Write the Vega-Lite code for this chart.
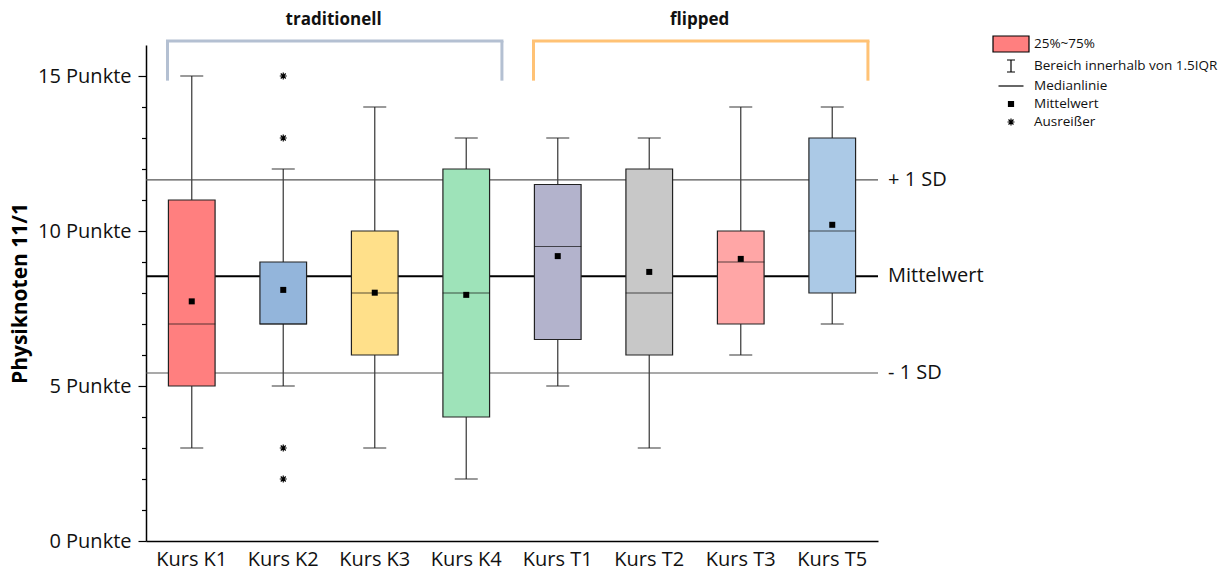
{
  "$schema": "https://vega.github.io/schema/vega-lite/v6.json",
  "width": 732,
  "height": 496,
  "autosize": {"type": "none"},
  "padding": {"left": 146, "top": 45, "right": 352, "bottom": 29},
  "background": "white",
  "config": {
    "font": "Open Sans",
    "view": {"stroke": null}
  },
  "datasets": {
    "boxes": [
      {"course": "Kurs K1", "lo": 3, "q1": 5, "median": 7, "q3": 11, "hi": 15, "mean": 7.73},
      {"course": "Kurs K2", "lo": 5, "q1": 7, "median": 7, "q3": 9, "hi": 12, "mean": 8.1},
      {"course": "Kurs K3", "lo": 3, "q1": 6, "median": 8, "q3": 10, "hi": 14, "mean": 8.01},
      {"course": "Kurs K4", "lo": 2, "q1": 4, "median": 8, "q3": 12, "hi": 13, "mean": 7.94},
      {"course": "Kurs T1", "lo": 5, "q1": 6.5, "median": 9.5, "q3": 11.5, "hi": 13, "mean": 9.19},
      {"course": "Kurs T2", "lo": 3, "q1": 6, "median": 8, "q3": 12, "hi": 13, "mean": 8.68},
      {"course": "Kurs T3", "lo": 6, "q1": 7, "median": 9, "q3": 10, "hi": 14, "mean": 9.1},
      {"course": "Kurs T5", "lo": 7, "q1": 8, "median": 10, "q3": 13, "hi": 14, "mean": 10.2}
    ],
    "outliers": [
      {"course": "Kurs K2", "value": 15},
      {"course": "Kurs K2", "value": 13},
      {"course": "Kurs K2", "value": 3},
      {"course": "Kurs K2", "value": 2}
    ],
    "refs": [
      {"label": "+ 1 SD", "value": 11.65, "kind": "sd"},
      {"label": "Mittelwert", "value": 8.54, "kind": "mean"},
      {"label": "- 1 SD", "value": 5.42, "kind": "sd"}
    ],
    "groups": [
      {"group": "traditionell", "from": "Kurs K1", "to": "Kurs K4", "mid": "Kurs K2"},
      {"group": "flipped", "from": "Kurs T1", "to": "Kurs T5", "mid": "Kurs T2"}
    ]
  },
  "encoding": {
    "x": {
      "field": "course",
      "type": "nominal",
      "sort": null,
      "scale": {"domain": ["Kurs K1", "Kurs K2", "Kurs K3", "Kurs K4", "Kurs T1", "Kurs T2", "Kurs T3", "Kurs T5"], "paddingInner": 0, "paddingOuter": 0},
      "axis": {
        "title": null,
        "labelAngle": 0,
        "labelFontSize": 20,
        "labelColor": "#111",
        "labelPadding": 8,
        "ticks": false,
        "domainColor": "#000",
        "domainWidth": 1.5,
        "grid": false
      }
    }
  },
  "layer": [
    {
      "data": {"name": "refs"},
      "mark": {"type": "rule"},
      "encoding": {
        "x": null,
        "y": {
          "field": "value",
          "type": "quantitative",
          "scale": {"domain": [0, 16], "nice": false, "zero": true},
          "axis": {
            "title": "Physiknoten 11/1",
            "titleFontSize": 21,
            "titleFontWeight": "bold",
            "titleColor": "#000",
            "titlePadding": 7,
            "tickCount": 16,
            "tickMinStep": 1,
            "labelExpr": "datum.value % 5 === 0 && datum.value < 16 ? datum.value + ' Punkte' : ''",
            "labelOverlap": false,
            "labelFontSize": 20,
            "labelColor": "#111",
            "labelPadding": 7,
            "tickSize": {"condition": {"test": "datum.value % 5 === 0", "value": 8}, "value": 4.5},
            "tickOpacity": {"condition": {"test": "datum.value > 15.5", "value": 0}, "value": 1},
            "tickColor": "#000",
            "tickWidth": 1.2,
            "domainColor": "#000",
            "domainWidth": 1.5,
            "grid": false
          }
        },
        "color": {"condition": {"test": "datum.kind === 'mean'", "value": "#000000"}, "value": "#555555"},
        "strokeWidth": {"condition": {"test": "datum.kind === 'mean'", "value": 2.2}, "value": 1.2}
      }
    },
    {
      "data": {"name": "refs"},
      "mark": {"type": "text", "align": "left", "baseline": "middle", "dx": 10, "fontSize": 20, "color": "#111"},
      "encoding": {
        "x": {"datum": "Kurs T5", "bandPosition": 1},
        "y": {"field": "value", "type": "quantitative"},
        "text": {"field": "label"}
      }
    },
    {
      "data": {"name": "boxes"},
      "mark": {"type": "rule", "color": "#444", "strokeWidth": 1.3},
      "encoding": {
        "y": {"field": "lo", "type": "quantitative"},
        "y2": {"field": "hi"}
      }
    },
    {
      "data": {"name": "boxes"},
      "mark": {"type": "tick", "color": "#222", "size": 23, "thickness": 1.3},
      "encoding": {"y": {"field": "lo", "type": "quantitative"}}
    },
    {
      "data": {"name": "boxes"},
      "mark": {"type": "tick", "color": "#222", "size": 23, "thickness": 1.3},
      "encoding": {"y": {"field": "hi", "type": "quantitative"}}
    },
    {
      "data": {"name": "boxes"},
      "mark": {"type": "bar", "width": {"band": 0.51}, "stroke": "#222", "strokeWidth": 1.2},
      "encoding": {
        "y": {"field": "q1", "type": "quantitative"},
        "y2": {"field": "q3"},
        "fill": {
          "field": "course",
          "type": "nominal",
          "scale": {"domain": ["Kurs K1", "Kurs K2", "Kurs K3", "Kurs K4", "Kurs T1", "Kurs T2", "Kurs T3", "Kurs T5"], "range": ["#FF7F7F", "#93B5DB", "#FFE08A", "#9EE3B9", "#B3B3CC", "#C8C8C8", "#FFA6A6", "#ABC9E6"]},
          "legend": null
        }
      }
    },
    {
      "data": {"name": "boxes"},
      "mark": {"type": "tick", "color": "#111", "size": 47, "thickness": 1.2},
      "encoding": {"y": {"field": "median", "type": "quantitative"}}
    },
    {
      "data": {"name": "boxes"},
      "mark": {"type": "point", "filled": true, "size": 400, "color": "#000", "opacity": 1, "shape": "M-0.3,-0.3H0.3V0.3H-0.3Z"},
      "encoding": {
        "y": {"field": "mean", "type": "quantitative"}
      }
    },
    {
      "data": {"name": "outliers"},
      "mark": {"type": "point", "filled": true, "size": 400, "strokeWidth": 1.2, "opacity": 1},
      "encoding": {
        "y": {"field": "value", "type": "quantitative"},
        "shape": {
          "datum": "Ausreißer",
          "type": "nominal",
          "scale": {
            "domain": ["25%~75%", "Bereich innerhalb von 1.5IQR", "Medianlinie", "Mittelwert", "Ausreißer"],
            "range": [
              "M-1.8,-0.8H1.8V0.8H-1.8Z",
              "M-0.4,-0.6H0.4M0,-0.6V0.6M-0.4,0.6H0.4",
              "M-1.25,0H1.25",
              "M-0.25,-0.25H0.25V0.25H-0.25Z",
              "M-0.35,0H0.35M0,-0.35V0.35M-0.25,-0.25L0.25,0.25M-0.25,0.25L0.25,-0.25"
            ]
          },
          "legend": {
            "title": null,
            "orient": "none",
            "legendX": 854,
            "legendY": -12,
            "padding": 0,
            "rowPadding": 0,
            "symbolSize": 400,
            "symbolStrokeWidth": 1.2,
            "symbolOpacity": 1,
            "labelFontSize": 13.5,
            "labelColor": "#111",
            "labelOffset": 12,
            "labelLimit": 400
          }
        },
        "fill": {
          "datum": "Ausreißer",
          "type": "nominal",
          "scale": {
            "domain": ["25%~75%", "Bereich innerhalb von 1.5IQR", "Medianlinie", "Mittelwert", "Ausreißer"],
            "range": ["#FF7F7F", "transparent", "transparent", "#000000", "transparent"]
          },
          "legend": {
            "title": null,
            "orient": "none",
            "legendX": 854,
            "legendY": -12,
            "padding": 0,
            "rowPadding": 0,
            "symbolSize": 400,
            "symbolStrokeWidth": 1.2,
            "labelFontSize": 13.5,
            "labelColor": "#111",
            "labelOffset": 12,
            "labelLimit": 400
          }
        },
        "stroke": {
          "datum": "Ausreißer",
          "type": "nominal",
          "scale": {
            "domain": ["25%~75%", "Bereich innerhalb von 1.5IQR", "Medianlinie", "Mittelwert", "Ausreißer"],
            "range": ["#000000", "#000000", "#000000", "#000000", "#000000"]
          },
          "legend": {
            "title": null,
            "orient": "none",
            "legendX": 854,
            "legendY": -12,
            "padding": 0,
            "rowPadding": 0,
            "symbolSize": 400,
            "symbolStrokeWidth": 1.2,
            "labelFontSize": 13.5,
            "labelColor": "#111",
            "labelOffset": 12,
            "labelLimit": 400
          }
        }
      }
    },
    {
      "data": {"name": "groups"},
      "mark": {"type": "rule", "strokeWidth": 3, "strokeCap": "square"},
      "encoding": {
        "x": {"field": "from", "type": "nominal", "bandPosition": 0.235},
        "x2": {"field": "to", "bandPosition": 0.89},
        "y": {"datum": 16.13},
        "color": {"field": "group", "type": "nominal", "scale": {"domain": ["traditionell", "flipped"], "range": ["#B4C0D2", "#FFC275"]}, "legend": null}
      }
    },
    {
      "data": {"name": "groups"},
      "mark": {"type": "rule", "strokeWidth": 3},
      "encoding": {
        "x": {"field": "from", "type": "nominal", "bandPosition": 0.235},
        "y": {"datum": 16.13},
        "y2": {"datum": 14.85},
        "color": {"field": "group", "type": "nominal", "legend": null}
      }
    },
    {
      "data": {"name": "groups"},
      "mark": {"type": "rule", "strokeWidth": 3},
      "encoding": {
        "x": {"field": "to", "type": "nominal", "bandPosition": 0.89},
        "y": {"datum": 16.13},
        "y2": {"datum": 14.85},
        "color": {"field": "group", "type": "nominal", "legend": null}
      }
    },
    {
      "data": {"name": "groups"},
      "mark": {"type": "text", "fontSize": 17, "fontWeight": "bold", "color": "#111", "align": "center", "baseline": "middle"},
      "encoding": {
        "x": {"field": "mid", "type": "nominal", "bandPosition": 1.05},
        "y": {"datum": 16.8},
        "text": {"field": "group"}
      }
    }
  ],
  "resolve": {"scale": {"fill": "independent", "shape": "independent", "stroke": "independent"}}
}
